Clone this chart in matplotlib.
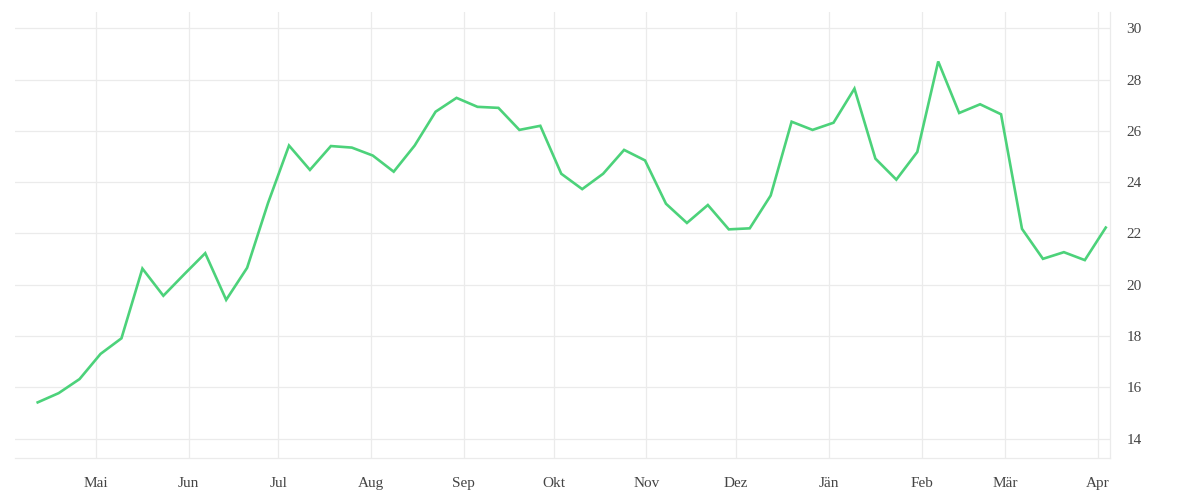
import numpy as np
import pandas as pd
import matplotlib

matplotlib.use("Agg")
import matplotlib.pyplot as plt  # noqa: E402
import matplotlib.dates as mdates  # noqa: E402
from matplotlib.ticker import FuncFormatter  # noqa: E402

# weekly values
start_date = "2021-04-11 14:00"
values = [
    15.41, 15.77, 16.32, 17.30, 17.91, 20.63, 19.57, 20.41, 21.23, 19.41,
    20.66, 23.19, 25.43, 24.48, 25.41, 25.35, 25.04, 24.41, 25.43, 26.75,
    27.29, 26.94, 26.90, 26.04, 26.20, 24.33, 23.73, 24.33, 25.26, 24.85,
    23.16, 22.41, 23.11, 22.16, 22.20, 23.48, 26.36, 26.04, 26.32, 27.65,
    24.92, 24.10, 25.18, 28.71, 26.70, 27.04, 26.65, 22.18, 21.01, 21.27,
    20.96, 22.23,
]
month_names = ["Jän", "Feb", "Mär", "Apr", "Mai", "Jun",
               "Jul", "Aug", "Sep", "Okt", "Nov", "Dez"]
y_ticks = [14, 16, 18, 20, 22, 24, 26, 28, 30]

dates = pd.date_range(start_date, periods=len(values), freq="7D")

GRID = "#ebebeb"
TEXT = "#444444"
plt.rcParams["font.family"] = ["Liberation Serif", "DejaVu Serif"]

fig = plt.figure(figsize=(12, 5), dpi=100)
ax = fig.add_axes([0.0125, 0.084, 0.9125, 0.892])

ax.plot(dates, values, color="#4cd27a", lw=1.9, solid_joinstyle="miter")

ax.set_xlim(pd.Timestamp("2021-04-04"), pd.Timestamp("2022-04-05"))
ax.set_ylim(13.24, 30.64)

ax.xaxis.set_major_locator(mdates.MonthLocator())
ax.xaxis.set_major_formatter(
    FuncFormatter(lambda x, pos: month_names[mdates.num2date(x).month - 1])
)
ax.set_yticks(y_ticks)
ax.yaxis.tick_right()

ax.grid(True, color=GRID, lw=0.9)
ax.set_axisbelow(True)
ax.tick_params(length=0, colors=TEXT, labelsize=11)
ax.tick_params(axis="y", pad=12)
ax.tick_params(axis="x", pad=14)
for side in ("top", "left"):
    ax.spines[side].set_visible(False)
for side in ("bottom", "right"):
    ax.spines[side].set_color(GRID)
    ax.spines[side].set_linewidth(0.9)

fig.savefig("out.png", dpi=100)
